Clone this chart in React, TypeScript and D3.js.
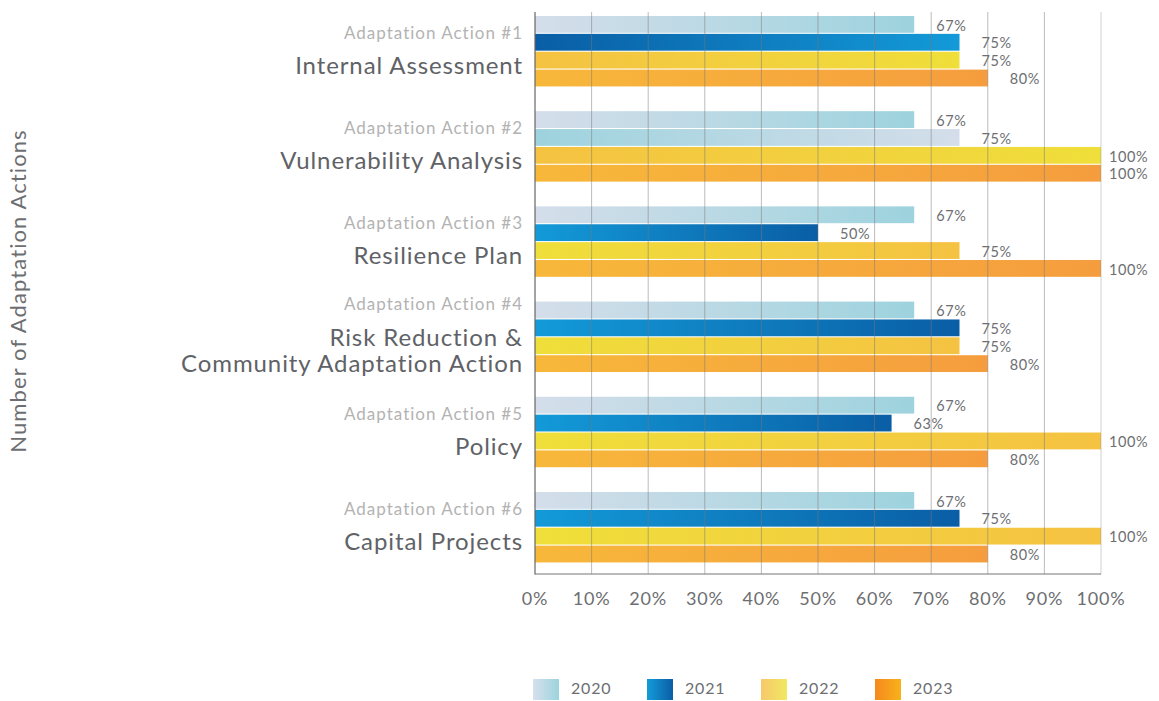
import React from "react";
import * as d3 from "d3";

const subtitles = [
  "Adaptation Action #1",
  "Adaptation Action #2",
  "Adaptation Action #3",
  "Adaptation Action #4",
  "Adaptation Action #5",
  "Adaptation Action #6",
];
const titles = [
  ["Internal Assessment"],
  ["Vulnerability Analysis"],
  ["Resilience Plan"],
  ["Risk Reduction &", "Community Adaptation Action"],
  ["Policy"],
  ["Capital Projects"],
];
const years = ["2020", "2021", "2022", "2023"];
const values2020 = [67, 67, 67, 67, 67, 67];
const values2021 = [75, 75, 50, 75, 63, 75];
const values2022 = [75, 100, 75, 75, 100, 100];
const values2023 = [80, 100, 100, 80, 80, 80];
const xTicks = [0, 10, 20, 30, 40, 50, 60, 70, 80, 90, 100];

const seriesValues = [values2020, values2021, values2022, values2023];

// gradient stops per year: [left, right]
const yearGrad: Record<string, [string, string]> = {
  "2020": ["#d4deea", "#9dd3de"],
  "2021": ["#139ad8", "#0a5ea5"],
  "2022": ["#efdf3a", "#f5c242"],
  "2023": ["#f7b83a", "#f59d3e"],
};
const legendGrad: Record<string, [string, string]> = {
  "2020": ["#d6e0ec", "#9cd4df"],
  "2021": ["#139bd9", "#0a5ea6"],
  "2022": ["#f7c86c", "#f0e862"],
  "2023": ["#f5881e", "#f8b21a"],
};

const W = 1159;
const H = 701;

export default function App() {
  const x = d3.scaleLinear().domain([0, 100]).range([535, 1101]);
  const y = d3
    .scaleBand<number>()
    .domain(d3.range(6))
    .range([3.6, 574.8])
    .paddingInner(0.26)
    .paddingOuter(0.13);
  const yi = d3
    .scaleBand<string>()
    .domain(years)
    .range([0, y.bandwidth()])
    .paddingInner(0.06);

  const font = "Lato, 'Open Sans', sans-serif";

  const gradId = (g: number, yr: string) => {
    // style overrides seen in the picture
    if (g === 1 && yr === "2021") return "g2020r";
    if (g === 0 && yr === "2021") return "g2021r";
    if ((g === 0 || g === 1) && yr === "2022") return "g2022r";
    return "g" + yr;
  };

  return (
    <svg width={W} height={H} style={{ display: "block", position: "absolute", left: 0, top: 0 }}>
      <defs>
        {years.map((yr) => (
          <React.Fragment key={yr}>
            <linearGradient id={"g" + yr} x1="0" x2="1" y1="0" y2="0">
              <stop offset="0" stopColor={yearGrad[yr][0]} />
              <stop offset="1" stopColor={yearGrad[yr][1]} />
            </linearGradient>
            <linearGradient id={"g" + yr + "r"} x1="0" x2="1" y1="0" y2="0">
              <stop offset="0" stopColor={yearGrad[yr][1]} />
              <stop offset="1" stopColor={yearGrad[yr][0]} />
            </linearGradient>
            <linearGradient id={"lg" + yr} x1="0" x2="1" y1="0" y2="0">
              <stop offset="0" stopColor={legendGrad[yr][0]} />
              <stop offset="1" stopColor={legendGrad[yr][1]} />
            </linearGradient>
          </React.Fragment>
        ))}
      </defs>

      {/* bars */}
      {d3.range(6).map((g) => (
        <g key={g} transform={`translate(0,${y(g)})`}>
          {years.map((yr, k) => (
            <rect
              key={yr}
              x={x(0)}
              y={yi(yr)}
              width={x(seriesValues[k][g]) - x(0)}
              height={yi.bandwidth()}
              fill={`url(#${gradId(g, yr)})`}
            />
          ))}
        </g>
      ))}

      {/* gridlines over bars */}
      {xTicks.slice(1).map((t) => (
        <line
          key={t}
          x1={x(t)}
          x2={x(t)}
          y1={12}
          y2={574}
          stroke="#7a7a7a"
          strokeOpacity={t === 100 ? 0.35 : 0.5}
          strokeWidth={1}
        />
      ))}
      <line x1={x(0)} x2={x(0)} y1={12} y2={574.5} stroke="#666" strokeWidth={1.2} />
      <line x1={x(0)} x2={x(100)} y1={574} y2={574} stroke="#777" strokeWidth={1.2} />

      {/* value labels */}
      {d3.range(6).map((g) => (
        <g key={"l" + g} transform={`translate(0,${y(g)})`}>
          {years.map((yr, k) => (
            <text
              key={yr}
              x={x(seriesValues[k][g]) + (seriesValues[k][g] === 100 ? 8 : 22)}
              y={(yi(yr) as number) + yi.bandwidth() / 2 + 2.5}
              dominantBaseline="middle"
              fontFamily={font}
              fontSize={14.5}
              letterSpacing={0.6}
              fill="#6d6e71"
            >
              {seriesValues[k][g]}%
            </text>
          ))}
        </g>
      ))}

      {/* category labels */}
      {d3.range(6).map((g) => {
        const lines = titles[g];
        const shift = lines.length > 1 ? -14 : 0;
        const y0 = (y(g) as number) + shift;
        return (
          <g key={"c" + g} fontFamily={font} textAnchor="end">
            <text
              x={523}
              y={y0 + 18.5}
              dominantBaseline="middle"
              fontSize={17}
              letterSpacing={1}
              fill="#b3b3b3"
            >
              {subtitles[g]}
            </text>
            {lines.map((ln, i) => (
              <text
                key={i}
                x={523}
                y={y0 + 52 + i * 26.5}
                dominantBaseline="middle"
                fontSize={24}
                letterSpacing={0.9}
                fill="#5f6266"
              >
                {ln}
              </text>
            ))}
          </g>
        );
      })}

      {/* x tick labels */}
      {xTicks.map((t) => (
        <text
          key={t}
          x={x(t)}
          y={600}
          textAnchor="middle"
          dominantBaseline="middle"
          fontFamily={font}
          fontSize={18}
          letterSpacing={0.8}
          fill="#6d6e71"
        >
          {t}%
        </text>
      ))}

      {/* y axis title */}
      <text
        transform="translate(20,291) rotate(-90)"
        textAnchor="middle"
        dominantBaseline="middle"
        fontFamily={font}
        fontSize={22}
        letterSpacing={1.1}
        fill="#6d6e71"
      >
        Number of Adaptation Actions
      </text>

      {/* legend */}
      {years.map((yr, i) => (
        <g key={yr} transform={`translate(${533 + i * 114},679)`}>
          <rect width={26} height={21} fill={`url(#lg${yr})`} />
          <text
            x={38}
            y={11}
            dominantBaseline="middle"
            fontFamily={font}
            fontSize={16}
            letterSpacing={0.8}
            fill="#6d6e71"
          >
            {yr}
          </text>
        </g>
      ))}
    </svg>
  );
}
